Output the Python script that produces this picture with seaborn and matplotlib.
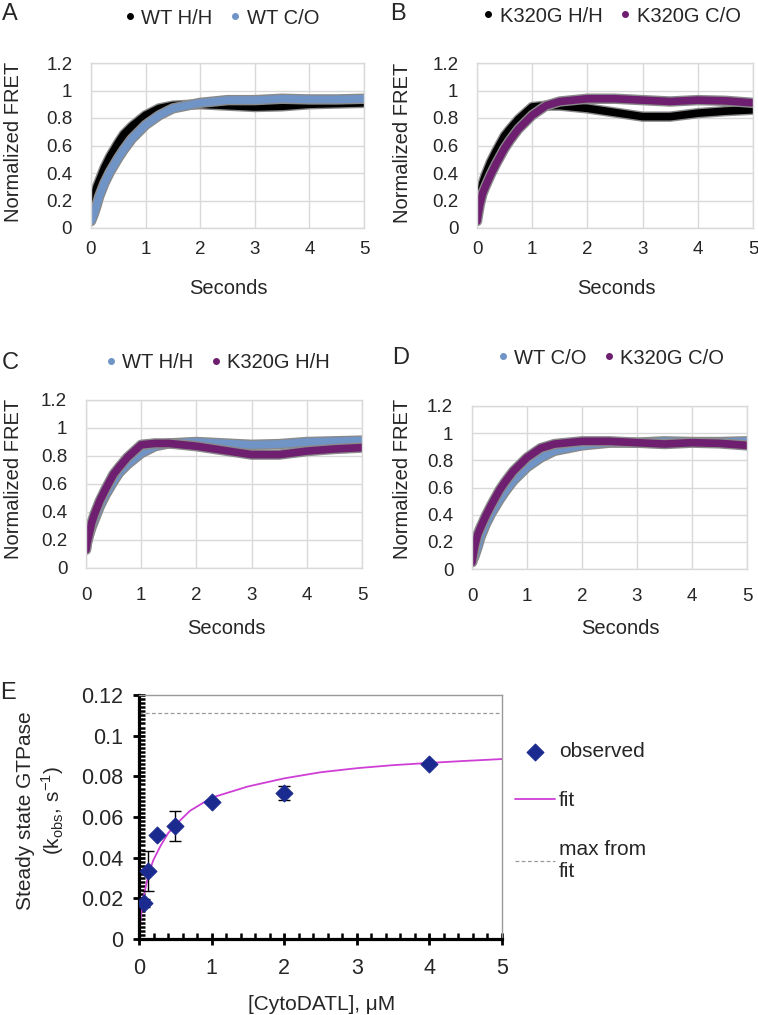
import matplotlib
matplotlib.use("Agg")
import matplotlib.pyplot as plt
import seaborn as sns
from matplotlib.lines import Line2D
from matplotlib.ticker import MultipleLocator, FuncFormatter

# ---- data ----
t_sec = [0, 0.02, 0.05, 0.1, 0.15, 0.25, 0.35, 0.5, 0.6, 0.75, 1.0, 1.25, 1.5, 2.0, 2.5, 3.0, 3.5, 4.0, 4.5, 5.0]
wt_hh = [0.14, 0.19, 0.23, 0.29, 0.34, 0.44, 0.52, 0.62, 0.68, 0.74, 0.82, 0.87, 0.89, 0.90, 0.89, 0.88, 0.885,
         0.90, 0.905, 0.91]
wt_co = [0.05, 0.07, 0.10, 0.16, 0.23, 0.33, 0.41, 0.51, 0.57, 0.65, 0.75, 0.82, 0.87, 0.91, 0.93, 0.93, 0.94,
         0.935, 0.935, 0.94]
k320g_hh = [0.13, 0.18, 0.23, 0.32, 0.38, 0.48, 0.56, 0.67, 0.72, 0.79, 0.88, 0.89, 0.89, 0.87, 0.84, 0.81, 0.81,
            0.835, 0.85, 0.86]
k320g_co = [0.05, 0.10, 0.17, 0.25, 0.30, 0.39, 0.47, 0.58, 0.64, 0.72, 0.82, 0.89, 0.92, 0.94, 0.94, 0.93, 0.92,
            0.93, 0.925, 0.91]

conc = [0.0625, 0.125, 0.25, 0.5, 1, 2, 4]
kobs = [0.0175, 0.0335, 0.051, 0.0555, 0.0675, 0.0718, 0.086]
kobs_err = [0.002, 0.0098, 0.0005, 0.0075, 0.0008, 0.0035, 0.0005]
fit_x = [0, 0.01, 0.02, 0.05, 0.1, 0.15, 0.2, 0.3, 0.4, 0.5, 0.7, 1.0, 1.5, 2.0, 2.5, 3.0, 3.5, 4.0, 4.5, 5.0]
fit_y = [0, 0.005, 0.009, 0.018, 0.027, 0.034, 0.039, 0.046, 0.052, 0.056, 0.063, 0.0695, 0.075, 0.079, 0.082,
         0.084, 0.0855, 0.0866, 0.0876, 0.0885]
max_fit = 0.111

BLACK = "black"
BLUE = "#7094c6"
PURPLE = "#6e1f70"

sns.set_style("white")
plt.rcParams["font.family"] = ["Liberation Sans", "DejaVu Sans"]

W, H = 758, 1015
fig = plt.figure(figsize=(W / 100, H / 100), dpi=100)


def px_axes(l, t, r, b):
    return fig.add_axes([l / W, 1 - b / H, (r - l) / W, (b - t) / H])


def fret_panel(rect, series, letter, letter_xy, leg_xy, ylab_xy, xlab_xy, xpad):
    ax = px_axes(*rect)
    for name, vals, col in series:
        # grey under-stroke stands in for the dense error bars
        sns.lineplot(x=t_sec, y=vals, ax=ax, color="#8a8a8a", linewidth=7.5,
                     solid_capstyle="round", solid_joinstyle="round")
        sns.lineplot(x=t_sec, y=vals, ax=ax, color=col, linewidth=5.5,
                     solid_capstyle="round", solid_joinstyle="round")
    ax.set_xlim(0, 5)
    ax.set_ylim(0, 1.2)
    ax.set_xticks(range(6))
    ax.set_yticks([0, 0.2, 0.4, 0.6, 0.8, 1.0, 1.2])
    ax.yaxis.set_major_formatter(FuncFormatter(lambda v, p: f"{v:g}"))
    ax.grid(True, color="#d9d9d9", linewidth=1)
    ax.set_axisbelow(True)
    for s in ax.spines.values():
        s.set_color("#d9d9d9")
        s.set_linewidth(1)
    ax.tick_params(axis="y", length=0, pad=13.5, labelsize=13.5)
    ax.tick_params(axis="x", length=0, pad=xpad, labelsize=13.5)
    ax.set_ylabel("Normalized FRET", fontsize=14.5)
    ax.yaxis.set_label_coords(ylab_xy[0] / W, 1 - ylab_xy[1] / H, transform=fig.transFigure)
    ax.set_xlabel("Seconds", fontsize=14.5)
    ax.xaxis.set_label_coords(xlab_xy[0] / W, 1 - xlab_xy[1] / H, transform=fig.transFigure)
    ax.xaxis.label.set_va("center")
    ax.yaxis.label.set_va("center")
    handles = [Line2D([], [], marker="o", ls="", color=c, markersize=4) for _, _, c in series]
    ax.legend(handles, [n for n, _, _ in series], loc="center", ncol=2, frameon=False,
              bbox_to_anchor=(leg_xy[0] / W, 1 - leg_xy[1] / H), bbox_transform=fig.transFigure,
              fontsize=14.5, handlelength=0.5, handletextpad=0.3, columnspacing=0.9)
    fig.text(letter_xy[0] / W, 1 - letter_xy[1] / H, letter, fontsize=17, va="center", ha="left")
    return ax


fret_panel((91, 63, 364, 228), [("WT H/H", wt_hh, BLACK), ("WT C/O", wt_co, BLUE)],
           "A", (2, 14), (222, 18), (14, 142), (228, 289), 9)
fret_panel((477, 63, 753, 228), [("K320G H/H", k320g_hh, BLACK), ("K320G C/O", k320g_co, PURPLE)],
           "B", (390, 14), (612, 16), (403, 143), (616, 289), 9)
fret_panel((86, 400, 362, 568), [("WT H/H", wt_hh, BLUE), ("K320G H/H", k320g_hh, PURPLE)],
           "C", (2, 363), (218, 363), (14, 479), (226, 628), 14)
fret_panel((472, 406, 747, 569), [("WT C/O", wt_co, BLUE), ("K320G C/O", k320g_co, PURPLE)],
           "D", (392, 358), (611, 358), (403, 479), (620, 628), 14)

# ---- panel E ----
axe = px_axes(139, 695, 502, 939)
axe.axhline(max_fit, color="#9a9a9a", linewidth=0.9, linestyle=(0, (3, 2)), label="max from\nfit")
sns.lineplot(x=fit_x, y=fit_y, ax=axe, color="#cf3fd6", linewidth=1.3, label="fit")
axe.errorbar(conc, kobs, yerr=kobs_err, fmt="none", ecolor="black", elinewidth=1, capsize=4, capthick=1)
sns.scatterplot(x=conc, y=kobs, ax=axe, marker="D", s=75, color="#1b2a8f", edgecolor="#1b2a8f",
                label="observed", zorder=5)
axe.set_xlim(0, 5)
axe.set_ylim(0, 0.12)
axe.set_xticks(range(6))
axe.set_yticks([0, 0.02, 0.04, 0.06, 0.08, 0.1, 0.12])
axe.yaxis.set_major_formatter(FuncFormatter(lambda v, p: f"{v:g}"))
axe.yaxis.set_minor_locator(MultipleLocator(0.002))
axe.xaxis.set_minor_locator(MultipleLocator(0.2))
for side in ["left", "bottom"]:
    axe.spines[side].set_color("black")
    axe.spines[side].set_linewidth(2.3)
for side in ["top", "right"]:
    axe.spines[side].set_color("#999999")
    axe.spines[side].set_linewidth(1)
axe.tick_params(which="major", direction="inout", length=9, width=2, labelsize=15.5, color="black")
axe.tick_params(axis="y", which="major", pad=7)
axe.tick_params(axis="x", which="major", pad=9)
axe.tick_params(which="minor", direction="in", length=4, width=1.8, color="black")
axe.tick_params(top=False, right=False, which="both")
axe.tick_params(left=True, bottom=True, which="both")
axe.set_xlabel("[CytoDATL], μM", fontsize=15)
axe.xaxis.set_label_coords(322 / W, 1 - 1004 / H, transform=fig.transFigure)
axe.xaxis.label.set_va("center")
axe.set_ylabel("Steady state GTPase\n(k$_\\mathregular{obs}$, s$^\\mathregular{-1}$)", fontsize=15,
               linespacing=1.2)
axe.yaxis.set_label_coords(41 / W, 1 - 811 / H, transform=fig.transFigure)
axe.yaxis.label.set_va("center")
h, l = axe.get_legend_handles_labels()
order = [l.index("observed"), l.index("fit"), l.index("max from\nfit")]
axe.legend([h[i] for i in order], [l[i] for i in order], loc="upper left", frameon=False,
           bbox_to_anchor=(515 / W, 1 - 742 / H), bbox_transform=fig.transFigure,
           fontsize=15, handlelength=1.9, handletextpad=0.2, labelspacing=1.45,
           borderpad=0, borderaxespad=0)
fig.text(0, 1 - 693 / H, "E", fontsize=17, va="center", ha="left")

fig.savefig("out.png", dpi=100)
